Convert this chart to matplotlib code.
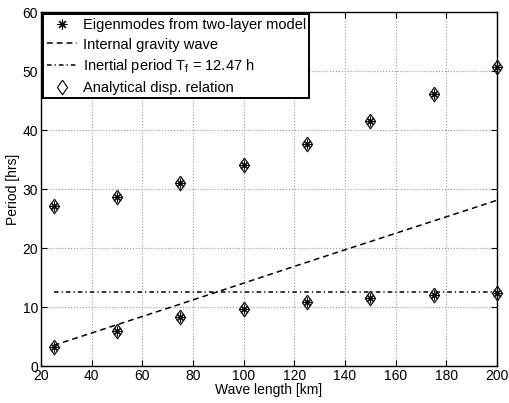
import matplotlib.pyplot as plt

plt.rcParams['font.family'] = ['Liberation Sans', 'DejaVu Sans']

wave_length = [25, 50, 75, 100, 125, 150, 175, 200]
# two branches of eigenmode periods
upper_period = [27.2, 28.6, 31.0, 34.1, 37.6, 41.6, 46.2, 50.7]
lower_period = [3.3, 6.0, 8.3, 9.7, 10.8, 11.55, 12.05, 12.4]
gravity_period = [3.5, 7.0, 10.5, 14.05, 17.6, 21.1, 24.6, 28.1]
inertial_period = 12.47


def main() -> None:
    fig = plt.figure(figsize=(5.1, 4.03), dpi=100)
    ax = fig.add_axes([0.0804, 0.0918, 0.894, 0.878])

    star = (8, 2, 0)
    diamond = [(0, 1), (0.7, 0), (0, -1), (-0.7, 0), (0, 1)]
    for i, period in enumerate([upper_period, lower_period]):
        ax.plot(wave_length, period, linestyle='none', marker=star,
                markersize=7, color='black', markeredgewidth=0.8,
                clip_on=False,
                label='Eigenmodes from two-layer model' if i == 0 else None)
    ax.plot(wave_length, gravity_period, color='black', linewidth=1.1,
            dashes=(3.8, 2.6), label='Internal gravity wave')
    ax.plot([wave_length[0], wave_length[-1]], [inertial_period] * 2,
            color='black', linewidth=1.1, dashes=(3.0, 2.0, 0.8, 2.0),
            label=r'Inertial period T$_\mathregular{f}$ = 12.47 h')
    for i, period in enumerate([upper_period, lower_period]):
        ax.plot(wave_length, period, linestyle='none', marker=diamond,
                markersize=10.5, markerfacecolor='none',
                markeredgecolor='black', markeredgewidth=0.8, clip_on=False,
                label='Analytical disp. relation' if i == 0 else None)

    ax.set_xlim(20, 200)
    ax.set_ylim(0, 60)
    ax.set_xticks(range(20, 201, 20))
    ax.set_yticks(range(0, 61, 10))
    ax.tick_params(direction='in', labelsize=10, length=4, pad=2,
                   top=True, right=True)
    ax.grid(True, linestyle=':', color='#999999', linewidth=0.8)
    ax.set_xlabel('Wave length [km]', fontsize=10, labelpad=0)
    ax.set_ylabel('Period [hrs]', fontsize=10, labelpad=2)
    for spine in ax.spines.values():
        spine.set_linewidth(1.0)

    leg = ax.legend(loc='upper left', fontsize=10.5, fancybox=False,
                    framealpha=1, edgecolor='black', borderaxespad=0.15,
                    handlelength=2.1, borderpad=0.25, labelspacing=0.38,
                    handletextpad=0.35)
    leg.get_frame().set_linewidth(1.4)

    fig.savefig('out.png', dpi=100)


if __name__ == '__main__':
    main()
